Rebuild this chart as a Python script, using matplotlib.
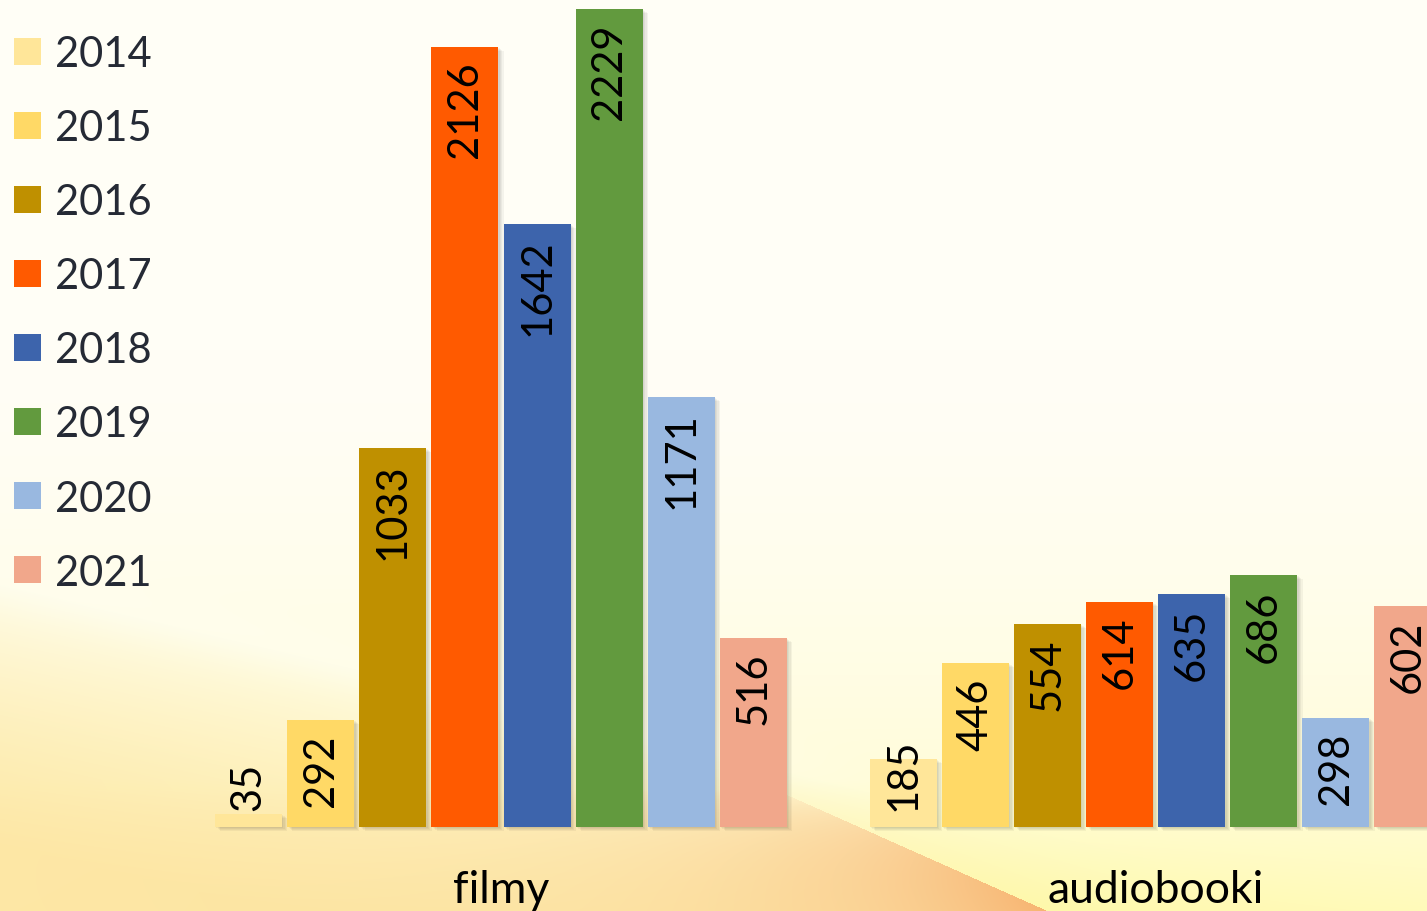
import numpy as np
import matplotlib
matplotlib.use('Agg')
import matplotlib.pyplot as plt
from matplotlib.patches import Rectangle

# ---------------- data ----------------
categories = ['filmy', 'audiobooki']
years = ['2014', '2015', '2016', '2017', '2018', '2019', '2020', '2021']
filmy = [35, 292, 1033, 2126, 1642, 2229, 1171, 516]
audiobooki = [185, 446, 554, 614, 635, 686, 298, 602]
colors = ['#FFE699', '#FFD966', '#BF9000', '#FF5A00',
          '#3D64AC', '#629A3E', '#99B8E0', '#F1A78B']
series = [filmy, audiobooki]

FONT = ['Lato', 'DejaVu Sans']
plt.rcParams['font.family'] = FONT

W, H = 1427, 912
fig = plt.figure(figsize=(W / 100, H / 100), dpi=100)

# ---------------- background gradient ----------------
yy, xx = np.mgrid[0:H, 0:W].astype(float)
def hexrgb(h):
    h = h.lstrip('#')
    return np.array([int(h[i:i + 2], 16) / 255 for i in (0, 2, 4)])

def blend(img, col, a):
    a = a[..., None]
    return img * (1 - a) + hexrgb(col) * a

top = hexrgb('#FFFEF6')
img = np.ones((H, W, 3)) * top
t = np.clip((yy - 350) / 562, 0, 1) ** 1.6
img = blend(img, '#FFFBC0', 0.8 * t)

# warm region under a diagonal band (lower left)
yline = 585 + (xx / 900.0) * 215
w = np.clip((yy - yline) / 260, 0, 1) ** 0.8
fade = np.clip((1150 - xx) / 350, 0, 1)
img = blend(img, '#FDE6A2', 0.9 * w * fade)
# light streak along the band
streak = np.exp(-((yy - yline + 10) / 28) ** 2) * np.clip((900 - xx) / 300, 0, 1)
img = blend(img, '#FFFDEE', 0.55 * streak)

# orange wedge to the left of a sharp diagonal edge
ex = 790 + (yy - 797) * (258 / 115.0)
d = ex - xx
left = (d > 0) & (yy > 790)
o = np.where(left, np.exp(-d / 260.0), 0) * np.clip((yy - 790) / 122, 0, 1) ** 0.7
img = blend(img, '#F6A862', 0.85 * o)
# bright yellow on the right of the edge, bottom
r = (~left) & (yy > 780)
yb = np.where(r, np.clip((yy - 780) / 132, 0, 1), 0) * np.exp(-np.clip(-d, 0, None) / 600)
img = blend(img, '#FFF8A0', 0.75 * yb)

bg = fig.add_axes([0, 0, 1, 1], zorder=0)
bg.imshow(np.clip(img, 0, 1), extent=[0, 1, 0, 1], aspect='auto', interpolation='bilinear')
bg.axis('off')

# ---------------- main axes ----------------
ax = fig.add_axes([0, 0, 1, 1], zorder=1)
ax.patch.set_alpha(0)
ax.axis('off')

PX = 72.1        # px per bar slot
PY = 818 / 2229  # px per unit
X0 = 501         # px of first group centre
BASE = 828       # px of baseline from top
ax.set_xlim(-X0 / PX, (W - X0) / PX)
ax.set_ylim(-(H - BASE) / PY, BASE / PY)

group_gap = 9.08
width = 0.93
n = len(years)
offsets = np.arange(n) - (n - 1) / 2

for g, vals in enumerate(series):
    xs = g * group_gap + offsets
    vals = np.array(vals)
    # soft shadow
    for k in range(1, 5):
        ax.bar(xs + k * 1.3 / PX, vals, width, bottom=-k * 1.0 / PY,
               color='black', alpha=0.045, linewidth=0, zorder=1)
    for i, (x, v) in enumerate(zip(xs, vals)):
        ax.bar(x, v, width, color=colors[i], linewidth=0, zorder=2)
        lab = str(v)
        need = 18 + 23 * len(lab) + 14
        if v * PY >= need:
            ax.annotate(lab, xy=(x, v), xytext=(0, -14 * 0.72),
                        textcoords='offset points', rotation=90,
                        ha='center', va='top', fontsize=30, color='black', zorder=3)
        else:
            ax.annotate(lab, xy=(x, 0), xytext=(0, 17 * 0.72),
                        textcoords='offset points', rotation=90,
                        ha='center', va='bottom', fontsize=30, color='black', zorder=3)
    ax.annotate(categories[g], xy=(g * group_gap, 0), xytext=(0, -75 * 0.72),
                textcoords='offset points', ha='center', va='baseline',
                fontsize=32, color='black')

# ---------------- legend ----------------
for i, yr in enumerate(years):
    cy = 52 + i * 74.1
    fig.add_artist(Rectangle((14 / W, 1 - (cy + 13.5) / H), 27 / W, 27 / H,
                             transform=fig.transFigure, facecolor=colors[i],
                             edgecolor='none', zorder=5))
    fig.text(55 / W, 1 - (cy + 15) / H, yr, ha='left', va='baseline',
             fontsize=30, color='#252A35', zorder=5)

fig.savefig('out.png', dpi=100)
